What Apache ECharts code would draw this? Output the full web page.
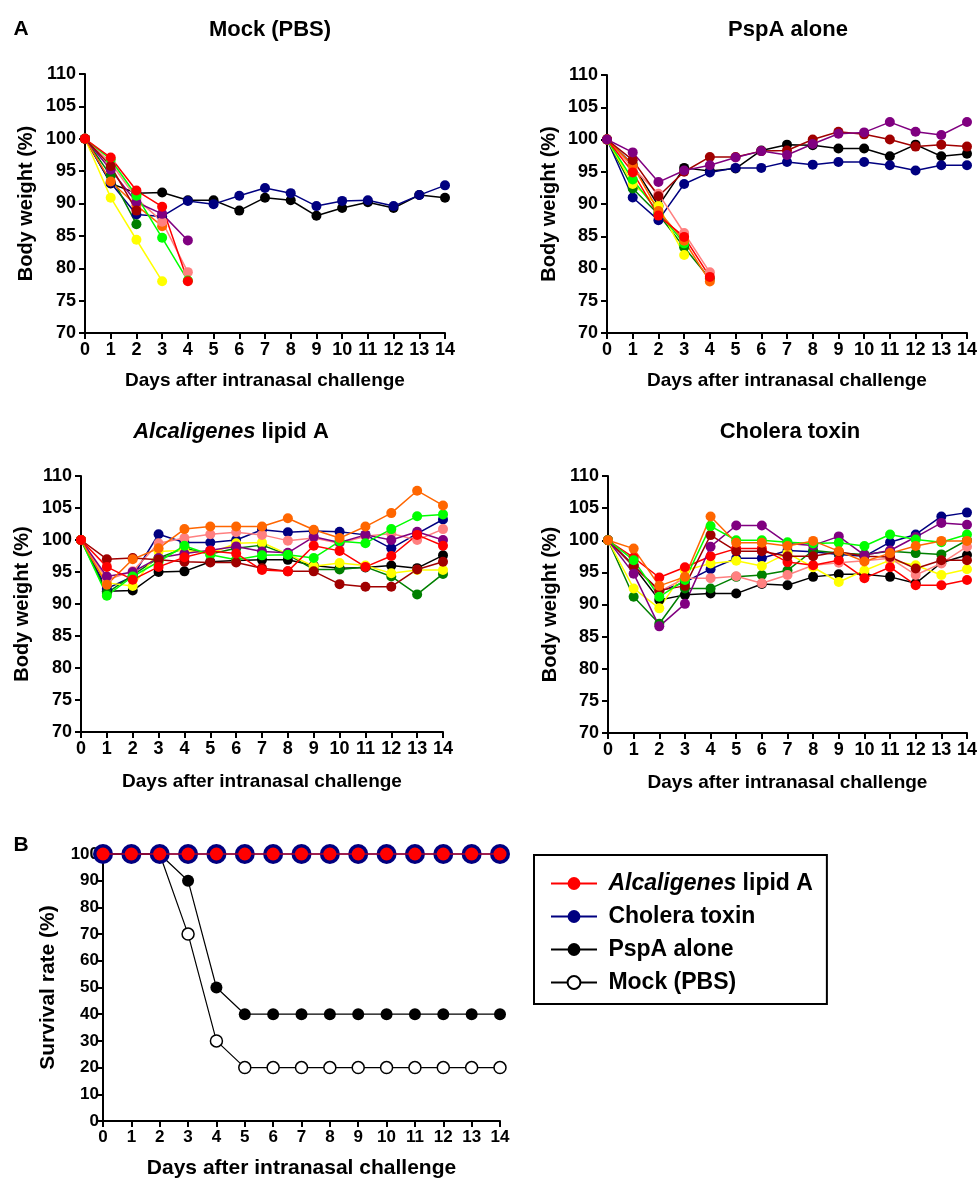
<!DOCTYPE html>
<html><head><meta charset="utf-8">
<script src="https://cdn.jsdelivr.net/npm/echarts@6/dist/echarts.min.js"></script>
<style>html,body{margin:0;padding:0;background:#fff}#c{width:980px;height:1180px}</style>
</head><body><div id="c"></div>
<script>
// ---------- data ----------
const days = [0,1,2,3,4,5,6,7,8,9,10,11,12,13,14];
const weightTicks = [70,75,80,85,90,95,100,105,110];

// Mock (PBS)
const mockBlack    = [100, 93.1, 91.6, 91.7, 90.5, 90.5, 88.9, 90.9, 90.5, 88.1, 89.3, 90.2, 89.3, 91.3, 90.9];
const mockNavy     = [100, 93.2, 88.3, 88.0, 90.4, 89.9, 91.2, 92.4, 91.6, 89.6, 90.4, 90.5, 89.6, 91.3, 92.8];
const mockDarkgreen= [100, 94.3, 86.8];
const mockYellow   = [100, 90.9, 84.4, 78.0];
const mockOrange   = [100, 93.4, 89.7, 86.5];
const mockPink     = [100, 96.3, 90.8, 87.2, 79.4];
const mockPurple   = [100, 95.2, 90.2, 88.4, 84.3];
const mockLime     = [100, 96.8, 91.2, 84.7, 78.1];
const mockDarkred  = [100, 95.8, 88.9];
const mockRed      = [100, 97.1, 92.0, 89.5, 78.0];

// PspA alone
const pspaBlack    = [100, 96.1, 89.7, 95.6, 95.1, 95.5, 98.3, 99.2, 99.1, 98.6, 98.6, 97.4, 99.2, 97.4, 97.8];
const pspaNavy     = [100, 91.0, 87.5, 93.1, 94.9, 95.6, 95.6, 96.5, 96.1, 96.5, 96.5, 96.0, 95.2, 96.0, 96.0];
const pspaPurple   = [100, 98.0, 93.4, 95.2, 96.0, 97.2, 98.2, 97.6, 99.3, 100.9, 101.1, 102.7, 101.2, 100.7, 102.7];
const pspaDarkred  = [100, 96.8, 91.2, 95.0, 97.3, 97.3, 98.2, 98.3, 100.0, 101.2, 100.8, 100.0, 98.9, 99.2, 98.9];
const pspaDarkgreen= [100, 92.4, 88.4, 83.3, 78.4];
const pspaYellow   = [100, 93.1, 89.7, 82.1];
const pspaLime     = [100, 93.8, 88.7, 83.9];
const pspaPink     = [100, 95.6, 91.6, 85.5, 79.4];
const pspaOrange   = [100, 96.0, 88.9, 84.3, 78.0];
const pspaRed      = [100, 94.9, 88.2, 84.9, 78.7];

// Alcaligenes lipid A
const alcBlack     = [100, 92.0, 92.1, 95.0, 95.1, 96.6, 96.8, 96.9, 96.9, 96.0, 95.6, 95.7, 96.0, 95.6, 97.6];
const alcNavy      = [100, 92.4, 94.3, 100.9, 99.6, 99.6, 100.0, 101.6, 101.2, 101.4, 101.3, 100.8, 98.7, 101.0, 103.2];
const alcDarkgreen = [100, 91.7, 94.5, 97.2, 98.7, 97.8, 98.7, 99.2, 97.7, 95.4, 95.4, 95.8, 94.3, 91.5, 94.7];
const alcYellow    = [100, 93.3, 92.8, 98.2, 98.4, 97.9, 99.5, 99.6, 97.8, 95.9, 96.4, 96.0, 94.8, 95.3, 95.3];
const alcPink      = [100, 93.8, 95.1, 99.5, 100.3, 100.9, 101.2, 100.8, 99.9, 100.3, 99.5, 100.6, 101.0, 100.0, 101.7];
const alcPurple    = [100, 94.3, 95.0, 97.2, 97.9, 98.4, 99.0, 98.2, 98.0, 100.5, 99.6, 100.8, 100.0, 101.3, 100.0];
const alcLime      = [100, 91.3, 94.3, 96.6, 99.1, 97.7, 96.9, 97.6, 97.7, 97.2, 99.8, 99.5, 101.7, 103.7, 104.0];
const alcDarkred   = [100, 97.0, 97.2, 96.9, 96.6, 96.5, 96.5, 95.6, 95.1, 95.1, 93.1, 92.7, 92.7, 95.4, 96.6];
const alcOrange    = [100, 93.0, 97.0, 98.7, 101.7, 102.1, 102.1, 102.1, 103.4, 101.6, 100.3, 102.1, 104.2, 107.7, 105.4];
const alcRed       = [100, 95.8, 93.8, 95.8, 97.3, 98.3, 97.9, 95.3, 95.1, 99.1, 98.3, 95.8, 97.5, 100.8, 99.1];

// Cholera toxin
const ctBlack      = [100, 95.9, 90.7, 91.5, 91.7, 91.7, 93.2, 93.0, 94.3, 94.7, 94.7, 94.3, 93.3, 96.5, 97.7];
const ctNavy       = [100, 96.1, 92.0, 93.5, 95.5, 97.2, 97.2, 98.4, 98.2, 97.8, 97.5, 99.7, 100.9, 103.7, 104.3];
const ctDarkgreen  = [100, 91.2, 87.0, 92.5, 92.5, 94.3, 94.6, 95.3, 98.4, 98.0, 97.8, 98.3, 98.0, 97.8, 100.0];
const ctYellow     = [100, 92.5, 89.4, 95.3, 96.4, 96.8, 96.0, 98.0, 95.8, 93.5, 95.3, 96.9, 96.1, 94.6, 95.5];
const ctPink       = [100, 96.0, 92.0, 94.1, 94.1, 94.4, 93.3, 94.6, 96.1, 96.5, 96.8, 97.2, 94.6, 96.4, 99.0];
const ctPurple     = [100, 94.8, 86.6, 90.1, 99.0, 102.3, 102.3, 99.5, 99.2, 100.6, 97.7, 98.4, 100.5, 102.7, 102.4];
const ctLime       = [100, 96.9, 91.2, 93.8, 102.2, 100.0, 100.0, 99.7, 99.5, 99.6, 99.1, 100.9, 100.1, 99.7, 100.9];
const ctDarkred    = [100, 96.0, 92.2, 92.9, 100.8, 98.3, 98.3, 97.5, 97.5, 98.2, 97.5, 97.4, 95.6, 96.9, 96.9];
const ctOrange     = [100, 98.7, 92.9, 94.3, 103.7, 99.6, 99.6, 99.1, 99.9, 98.3, 96.7, 98.0, 99.1, 99.9, 99.9];
const ctRed        = [100, 97.3, 94.2, 95.8, 97.5, 98.7, 98.7, 96.6, 96.1, 96.9, 94.1, 95.8, 93.0, 93.0, 93.8];

// Survival (B)
const survivalNames = ['Alcaligenes lipid A', 'Cholera toxin', 'PspA alone', 'Mock (PBS)'];
const survAlc   = [100,100,100,100,100,100,100,100,100,100,100,100,100,100,100];
const survCt    = [100,100,100,100,100,100,100,100,100,100,100,100,100,100,100];
const survPspa  = [100,100,100,90,50,40,40,40,40,40,40,40,40,40,40];
const survMock  = [100,100,100,70,30,20,20,20,20,20,20,20,20,20,20];

// ---------- styling ----------
const COL = {black:'#000000', navy:'#000080', darkgreen:'#008000', yellow:'#ffff00', pink:'#ff8080',
             purple:'#800080', lime:'#00ff00', darkred:'#a00000', orange:'#ff6600', red:'#ff0000'};
const FF = '"Liberation Sans", Arial, sans-serif';

const panels = [
  {grid:{left:85, top:74, width:360, height:259}, mice:[
    ['black',mockBlack],['navy',mockNavy],['darkgreen',mockDarkgreen],['yellow',mockYellow],['orange',mockOrange],
    ['pink',mockPink],['purple',mockPurple],['lime',mockLime],['darkred',mockDarkred],['red',mockRed]]},
  {grid:{left:607, top:75, width:361, height:258}, mice:[
    ['black',pspaBlack],['navy',pspaNavy],['darkgreen',pspaDarkgreen],['yellow',pspaYellow],['lime',pspaLime],
    ['pink',pspaPink],['orange',pspaOrange],['red',pspaRed],['darkred',pspaDarkred],['purple',pspaPurple]]},
  {grid:{left:81, top:476, width:362, height:256}, mice:[
    ['black',alcBlack],['navy',alcNavy],['darkgreen',alcDarkgreen],['yellow',alcYellow],['pink',alcPink],
    ['purple',alcPurple],['lime',alcLime],['darkred',alcDarkred],['orange',alcOrange],['red',alcRed]]},
  {grid:{left:608, top:476, width:360, height:257}, mice:[
    ['black',ctBlack],['navy',ctNavy],['darkgreen',ctDarkgreen],['yellow',ctYellow],['pink',ctPink],
    ['red',ctRed],['darkred',ctDarkred],['purple',ctPurple],['lime',ctLime],['orange',ctOrange]]}
];

const axisLine = {show:true, onZero:false, lineStyle:{color:'#000', width:2}};
const axisTick = {show:true, length:6, lineStyle:{color:'#000', width:2}};
function lbl(size, margin){ return {color:'#000', fontWeight:'bold', fontSize:size, fontFamily:FF, margin:margin}; }
const nameStyle = {color:'#000', fontWeight:'bold', fontSize:19, fontFamily:FF};

const grids = [], xAxes = [], yAxes = [], series = [];
panels.forEach((p, gi) => {
  grids.push(p.grid);
  xAxes.push({type:'value', gridIndex:gi, min:0, max:14, interval:1, axisLine, axisTick,
    axisLabel:lbl(18,8), splitLine:{show:false},
    name:'Days after intranasal challenge', nameLocation:'middle', nameGap:gi<2?38:40, nameTextStyle:nameStyle});
  yAxes.push({type:'value', gridIndex:gi, min:70, max:110, interval:5, axisLine, axisTick,
    axisLabel:lbl(18,9), splitLine:{show:false},
    name:'Body weight (%)', nameLocation:'middle', nameRotate:90, nameGap:(gi%2===0)?49:48,
    nameTextStyle:Object.assign({}, nameStyle, {fontSize:20})});
  p.mice.forEach(([c, vals]) => {
    series.push({name:'w'+gi+'-'+c, type:'line', xAxisIndex:gi, yAxisIndex:gi,
      data: vals.map((v,i)=>[days[i], v]), symbol:'circle', symbolSize:10, showSymbol:true, clip:false,
      lineStyle:{color:COL[c], width:1.5}, itemStyle:{color:COL[c]}, emphasis:{disabled:true}});
  });
});

// survival panel
grids.push({left:103, top:854, width:397, height:269});
xAxes.push({type:'value', gridIndex:4, min:0, max:14, interval:1, axisLine, axisTick,
  axisLabel:lbl(17,8), splitLine:{show:false},
  name:'Days after intranasal challenge', nameLocation:'middle', nameGap:37,
  nameTextStyle:Object.assign({}, nameStyle, {fontSize:21})});
yAxes.push({type:'value', gridIndex:4, min:0, max:100, interval:10, axisLine, axisTick,
  axisLabel:lbl(17,4), splitLine:{show:false},
  name:'Survival rate (%)', nameLocation:'middle', nameRotate:90, nameGap:44,
  nameTextStyle:Object.assign({}, nameStyle, {fontSize:21})});

const survSpecs = [
  {name:'Mock (PBS)', vals:survMock, size:12, line:'#000', lw:1.2, item:{color:'#fff', borderColor:'#000', borderWidth:1.5}, z:3},
  {name:'PspA alone', vals:survPspa, size:12, line:'#000', lw:1.2, item:{color:'#000'}, z:4},
  {name:'Cholera toxin', vals:survCt, size:20, line:'#000080', lw:1.5, item:{color:'#000080'}, z:5},
  {name:'Alcaligenes lipid A', vals:survAlc, size:13, line:'#ff0000', lw:1.2, item:{color:'#ff0000'}, z:6}
];
survSpecs.forEach(s => {
  series.push({name:s.name, type:'line', xAxisIndex:4, yAxisIndex:4, z:s.z,
    data:s.vals.map((v,i)=>[days[i], v]), symbol:'circle', symbolSize:s.size, showSymbol:true, clip:false,
    lineStyle:{color:s.line, width:s.lw}, itemStyle:s.item, emphasis:{disabled:true}});
});

const italicRich = (size) => ({i:{fontStyle:'italic', fontWeight:'bold', fontSize:size, fontFamily:FF, fill:'#000', color:'#000'}});
function gtext(text, x, y, size, rich){
  const st = {text, x:0, y:0, fill:'#000', fontSize:size, fontWeight:'bold', fontFamily:FF, align:'center', verticalAlign:'middle'};
  if (rich) st.rich = italicRich(size);
  return {type:'text', x, y, style:st, silent:true};
}

const option = {
  animation:false,
  backgroundColor:'#fff',
  grid:grids, xAxis:xAxes, yAxis:yAxes, series,
  legend:{
    data:survivalNames, orient:'vertical', left:534, top:855,
    itemWidth:46, itemHeight:16, itemGap:10, padding:[17,14,10,16],
    borderColor:'#000', borderWidth:2, selectedMode:false,
    formatter: n => n === 'Alcaligenes lipid A' ? ' {i|Alcaligenes} lipid A' : ' ' + n,
    textStyle:{color:'#000', fontSize:23, fontWeight:'bold', fontFamily:FF, lineHeight:23,
      rich:{i:{fontStyle:'italic', fontWeight:'bold', fontSize:23, fontFamily:FF, color:'#000', lineHeight:23}}}
  },
  graphic:[
    gtext('A', 21, 29, 21),
    gtext('B', 21, 845, 21),
    gtext('Mock (PBS)', 270, 30, 22),
    gtext('PspA alone', 788, 30, 22),
    gtext('{i|Alcaligenes} lipid A', 231, 432, 22, true),
    gtext('Cholera toxin', 790, 432, 22)
  ]
};

const chart = echarts.init(document.getElementById('c'), null, {renderer:'canvas'});
chart.setOption(option);
</script>
</body></html>
